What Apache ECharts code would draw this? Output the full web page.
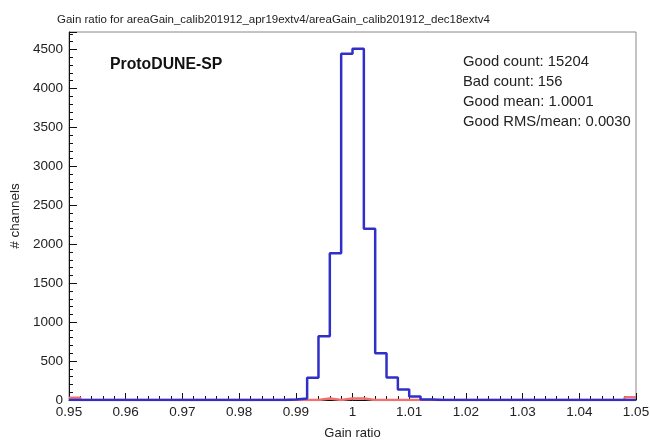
<!DOCTYPE html>
<html>
<head>
<meta charset="utf-8">
<script src="https://cdn.jsdelivr.net/npm/echarts@6/dist/echarts.min.js"></script>
<style>
  html, body { margin: 0; padding: 0; background: #fff; }
  #chart { width: 650px; height: 441px; }
</style>
</head>
<body>
<div id="chart"></div>
<script>
// histogram: 50 bins of width 0.002 from 0.95 to 1.05
var binStart = 0.95;
var binWidth = 0.002;

// good channels per bin
var goodCounts = [
    0, 0, 0, 0, 0, 0, 0, 0, 0, 0,
    0, 0, 0, 0, 0, 0, 0, 0, 0, 5,
    20, 285, 820, 1885, 4445, 4510, 2200, 600, 290, 135,
    45, 5, 0, 0, 0, 0, 0, 0, 0, 0,
    0, 0, 0, 0, 0, 0, 0, 0, 0, 0
];

// bad channels per bin
var badCounts = [
    30, 0, 0, 0, 0, 0, 0, 0, 0, 0,
    0, 0, 0, 0, 0, 0, 0, 0, 0, 0,
    0, 0, 20, 0, 20, 20, 0, 0, 0, 0,
    0, 0, 0, 0, 0, 0, 0, 0, 0, 0,
    0, 0, 0, 0, 0, 0, 0, 0, 0, 35
];

var statLines = [
    'Good count: 15204',
    'Bad count: 156',
    'Good mean: 1.0001',
    'Good RMS/mean: 0.0030'
];


function stepData(counts) {
    var pts = [];
    for (var i = 0; i < counts.length; i++) {
        pts.push([binStart + binWidth * i, counts[i]]);
    }
    pts.push([binStart + binWidth * counts.length, counts[counts.length - 1]]);
    return pts;
}

var font = 'Liberation Sans, Arial, sans-serif';

var chart = echarts.init(document.getElementById('chart'));

var option = {
    animation: false,
    backgroundColor: '#fff',
    title: {
        text: 'Gain ratio for areaGain_calib201912_apr19extv4/areaGain_calib201912_dec18extv4',
        left: 52,
        top: 9,
        textStyle: { fontFamily: font, fontSize: 11.5, fontWeight: 'normal', color: '#222' }
    },
    grid: {
        left: 69, right: 14, top: 32, bottom: 41,
        outerBoundsMode: 'none',
        show: true,
        borderColor: '#888',
        borderWidth: 1
    },
    xAxis: {
        type: 'value',
        min: 0.95,
        max: 1.05,
        interval: 0.01,
        name: 'Gain ratio',
        nameLocation: 'middle',
        nameGap: 27,
        nameTextStyle: { fontFamily: font, fontSize: 13, color: '#222' },
        splitLine: { show: false },
        axisLine: { lineStyle: { color: '#111', width: 1 } },
        axisTick: { inside: true, length: 7, lineStyle: { color: '#111' } },
        minorTick: { show: true, splitNumber: 5, length: 4, lineStyle: { color: '#111' } },
        axisLabel: {
            fontFamily: font, fontSize: 13.5, color: '#222', margin: 5,
            formatter: function(v) { return String(+v.toFixed(2)); }
        }
    },
    yAxis: {
        type: 'value',
        min: 0,
        max: 4725,
        interval: 500,
        name: '# channels',
        nameLocation: 'middle',
        nameGap: 43,
        nameTextStyle: { fontFamily: font, fontSize: 13.5, color: '#222' },
        splitLine: { show: false },
        axisLine: { show: true, lineStyle: { color: '#111', width: 1 } },
        axisTick: { inside: true, length: 8, lineStyle: { color: '#111' } },
        minorTick: { show: true, splitNumber: 5, length: 4, lineStyle: { color: '#111' } },
        axisLabel: {
            fontFamily: font, fontSize: 13.5, color: '#222', margin: 6,
            showMaxLabel: false,
            formatter: function(v) { return String(v); }
        }
    },
    graphic: [{
        type: 'text',
        left: 110,
        top: 57,
        style: { text: 'ProtoDUNE-SP', font: 'bold 15.8px ' + font, fill: '#111' }
    }, {
        type: 'text',
        left: 463,
        top: 52,
        style: {
            text: statLines.join('\n'),
            font: '14.8px ' + font,
            lineHeight: 20,
            fill: '#222'
        }
    }],
    series: [{
        name: 'bad',
        type: 'line',
        step: 'end',
        symbol: 'none',
        z: 2,
        data: stepData(badCounts),
        lineStyle: { color: '#f07070', width: 2.5 }
    }, {
        name: 'good',
        type: 'line',
        step: 'end',
        symbol: 'none',
        z: 3,
        data: stepData(goodCounts),
        lineStyle: { color: '#3030c8', width: 2.5 }
    }]
};

chart.setOption(option);
</script>
</body>
</html>
